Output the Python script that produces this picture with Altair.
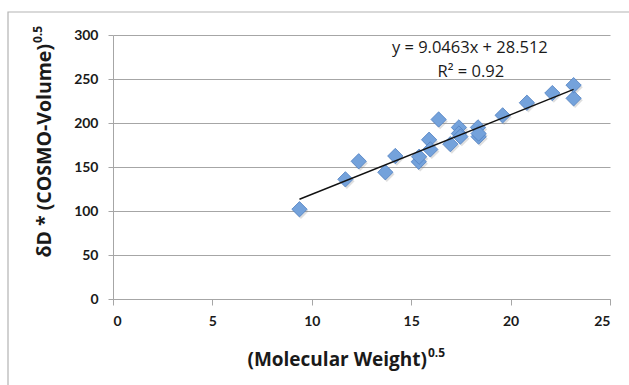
import altair as alt
import pandas as pd

# (Molecular Weight)^0.5 and dD * (COSMO-Volume)^0.5 for each compound
mw_sqrt = [9.38, 11.69, 12.36, 13.70, 14.20, 15.38, 15.40, 15.90, 15.96, 16.38, 16.97,
           17.40, 17.40, 17.47, 18.36, 18.39, 18.39, 19.60, 20.82, 22.10, 23.17, 23.17]
dd_vol = [102, 136, 156.5, 144, 162.5, 156, 161.7, 181, 170, 204, 176,
          195, 188, 184.5, 195, 184.5, 188, 208.7, 223, 234, 228, 243]

# linear trendline as reported
slope = 9.0463
intercept = 28.512
r_squared = 0.92

x_ticks = [0, 5, 10, 15, 20, 25]
y_ticks = [0, 50, 100, 150, 200, 250, 300]

FONT = "Lato"
TITLE_FONT = "Open Sans"
INK = "#1a1a1a"
GRID = "#a6a6a6"

pts = pd.DataFrame({"x": mw_sqrt, "y": dd_vol})
x_lo, x_hi = min(mw_sqrt), max(mw_sqrt)
trend = pd.DataFrame({"x": [x_lo, x_hi],
                      "y": [slope * x_lo + intercept, slope * x_hi + intercept]})
notes = pd.DataFrame({
    "x": [17.95, 18.0],
    "y": [285.5, 258.5],
    "t": [f"y = {slope}x + {intercept}", f"R\u00b2 = {r_squared}"],
})

xs = alt.Scale(domain=[0, 25], nice=False)
ys = alt.Scale(domain=[0, 300], nice=False)

x_axis = alt.Axis(values=x_ticks, title=None, grid=False, domainColor=GRID,
                  tickColor=GRID, tickSize=6, labelFont=FONT, labelFontSize=14,
                  labelFontWeight="bold", labelColor=INK, labelPadding=9)
y_axis = alt.Axis(values=y_ticks, title=None, grid=True, gridColor=GRID,
                  domainColor=GRID, tickColor=GRID, tickSize=5, labelFont=FONT,
                  labelFontSize=14, labelFontWeight="bold", labelColor=INK,
                  labelPadding=10)

# outer frame of the chart area
frame = alt.Chart(pd.DataFrame({"k": [0]})).mark_rect(
    fill=None, stroke="#b3b3b3", strokeWidth=1.2
).encode(x=alt.value(-105), y=alt.value(-23), x2=alt.value(700), y2=alt.value(500))

shadow = alt.Chart(pts).mark_point(
    shape="diamond", size=235, filled=True, color="#7f7f7f", opacity=0.25,
    xOffset=1.5, yOffset=2
).encode(x=alt.X("x:Q", scale=xs, axis=x_axis), y=alt.Y("y:Q", scale=ys, axis=y_axis))

points = alt.Chart(pts).mark_point(
    shape="diamond", size=235, filled=True, fill="#74A2DB", stroke="#5080C2",
    strokeWidth=0.8, opacity=1
).encode(x=alt.X("x:Q", scale=xs), y=alt.Y("y:Q", scale=ys))

line = alt.Chart(trend).mark_line(color="#111111", strokeWidth=1.4).encode(
    x=alt.X("x:Q", scale=xs), y=alt.Y("y:Q", scale=ys)
)

eq = alt.Chart(notes).mark_text(
    font=TITLE_FONT, fontSize=16.5, color=INK, align="center", baseline="middle"
).encode(x=alt.X("x:Q", scale=xs), y=alt.Y("y:Q", scale=ys), text="t:N")

# axis titles with raised exponents
title_x = alt.Chart(pd.DataFrame({"t": ["(Molecular Weight)"]})).mark_text(
    font=TITLE_FONT, fontSize=19, fontWeight="bold", color=INK, align="right",
    baseline="alphabetic"
).encode(x=alt.value(314), y=alt.value(331), text="t:N")
title_x_exp = alt.Chart(pd.DataFrame({"t": ["0.5"]})).mark_text(
    font=TITLE_FONT, fontSize=12, fontWeight="bold", color=INK, align="left",
    baseline="alphabetic"
).encode(x=alt.value(315), y=alt.value(322), text="t:N")

title_y = alt.Chart(pd.DataFrame({"t": ["\u03b4D * (COSMO-Volume)"]})).mark_text(
    font=TITLE_FONT, fontSize=19.5, fontWeight="bold", color=INK, align="right",
    baseline="alphabetic", angle=270
).encode(x=alt.value(-62), y=alt.value(9), text="t:N")
title_y_exp = alt.Chart(pd.DataFrame({"t": ["0.5"]})).mark_text(
    font=TITLE_FONT, fontSize=12, fontWeight="bold", color=INK, align="left",
    baseline="alphabetic", angle=270
).encode(x=alt.value(-71), y=alt.value(8), text="t:N")

chart = alt.layer(
    frame, shadow, points, line, eq, title_x, title_x_exp, title_y, title_y_exp
).properties(
    width=497, height=264,
    autosize=alt.AutoSizeParams(type="none"),
    padding={"left": 113, "top": 35, "right": 19, "bottom": 86},
    background="white",
).configure_view(stroke=None)

chart.save("out.html", embed_options={"renderer": "svg", "actions": False})
